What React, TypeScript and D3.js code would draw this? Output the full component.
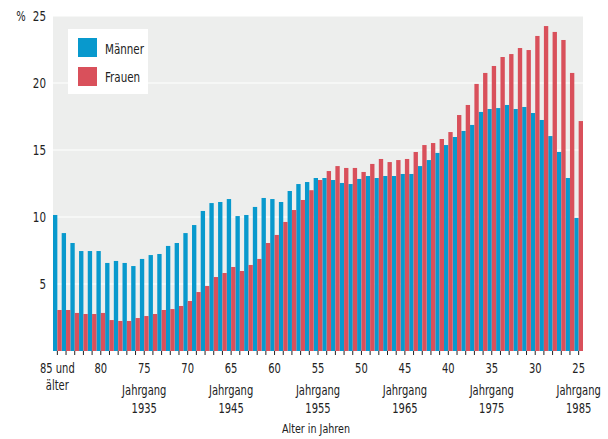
import React from "react";
import * as d3 from "d3";

const ages: number[] = d3.range(85, 24, -1);
const maenner: number[] = [
  10.15, 8.8, 8.06, 7.46, 7.46, 7.46, 6.57, 6.72, 6.57, 6.34,
  6.87, 7.16, 7.24, 7.84, 8.06, 8.8, 9.4, 10.45, 11.04, 11.12,
  11.34, 10.07, 10.15, 10.75, 11.42, 11.34, 11.12, 11.94, 12.46, 12.61,
  12.91, 12.91, 12.76, 12.54, 12.46, 12.84, 13.06, 12.91, 13.06, 13.06,
  13.21, 13.21, 13.8, 14.25, 14.78, 15.37, 15.97, 16.42, 16.87, 17.84,
  18.06, 18.13, 18.36, 18.06, 18.21, 17.76, 17.24, 16.04, 14.85, 12.91,
  9.93,
];
const frauen: number[] = [
  3.06, 3.06, 2.84, 2.76, 2.76, 2.84, 2.31, 2.24, 2.24, 2.46,
  2.61, 2.76, 3.06, 3.13, 3.36, 3.73, 4.4, 4.85, 5.52, 5.82,
  6.27, 5.97, 6.42, 6.87, 8.06, 8.66, 9.63, 10.52, 11.27, 12.0,
  12.76, 13.43, 13.8, 13.66, 13.66, 13.36, 13.96, 14.33, 14.1, 14.25,
  14.33, 14.85, 15.37, 15.52, 15.82, 16.34, 17.61, 18.36, 19.93, 20.75,
  21.27, 21.94, 22.16, 22.61, 22.46, 23.51, 24.25, 23.81, 23.21, 20.75,
  17.16,
];
const seriesNames: string[] = ["Männer", "Frauen"];
const seriesColors: string[] = ["#0899cd", "#d9505b"];
const yTicks: number[] = [5, 10, 15, 20, 25];
const xLabelAges: number[] = [85, 80, 75, 70, 65, 60, 55, 50, 45, 40, 35, 30, 25];
const jahrgang: { age: number; year: string }[] = [
  { age: 75, year: "1935" },
  { age: 65, year: "1945" },
  { age: 55, year: "1955" },
  { age: 45, year: "1965" },
  { age: 35, year: "1975" },
  { age: 25, year: "1985" },
];

const W = 608;
const H = 439;
const FONT = "'DejaVu Sans Condensed', 'DejaVu Sans', sans-serif";
const TEXT = "#222";
const SX = 0.82;

function Label(props: { x: number; y: number; size: number; anchor?: string; children: React.ReactNode }) {
  return (
    <text
      transform={`translate(${props.x},${props.y}) scale(${SX},1)`}
      textAnchor={props.anchor || "middle"}
      fontFamily={FONT}
      fontSize={props.size}
      fill={TEXT}
    >
      {props.children}
    </text>
  );
}

export default function App() {
  const x = d3.scaleBand<number>().domain(ages).range([53, 583]).padding(0);
  const inner = d3.scaleBand<string>().domain(seriesNames).range([0, x.bandwidth()]).padding(0);
  const y = d3.scaleLinear().domain([0, 25]).range([351, 16]);
  const data = [maenner, frauen];
  const cx = (a: number) => (x(a) as number) + x.bandwidth() / 2;

  return (
    <svg width={W} height={H} style={{ position: "absolute", left: 0, top: 0, background: "#fff" }}>
      <rect x={53} y={y(25)} width={583 - 53} height={y(0) - y(25)} fill="#edeeed" />
      {yTicks.map((t) => (
        <line key={t} x1={53} x2={583} y1={y(t)} y2={y(t)} stroke="#fff" strokeWidth={1.2} />
      ))}
      {data.map((vals, si) =>
        vals.map((v, i) => (
          <rect
            key={si + "-" + i}
            x={(x(ages[i]) as number) + (inner(seriesNames[si]) as number)}
            y={y(v)}
            width={inner.bandwidth()}
            height={y(0) - y(v)}
            fill={seriesColors[si]}
          />
        ))
      )}
      {ages.map((a) => (
        <line key={a} x1={cx(a)} x2={cx(a)} y1={351} y2={355} stroke="#222" strokeWidth={1} />
      ))}
      {yTicks.map((t) => (
        <Label key={t} x={46} y={y(t) + 5} size={14} anchor="end">
          {t}
        </Label>
      ))}
      <Label x={21} y={y(25) + 5} size={13.5}>
        %
      </Label>
      {xLabelAges.map((a) => (
        <Label key={a} x={cx(a)} y={373} size={13.5}>
          {a === 85 ? "85 und" : a}
        </Label>
      ))}
      <Label x={cx(85)} y={390} size={13.5}>
        älter
      </Label>
      {jahrgang.map((j) => (
        <g key={j.age}>
          <Label x={cx(j.age)} y={395} size={13.5}>
            Jahrgang
          </Label>
          <Label x={cx(j.age)} y={413} size={13.5}>
            {j.year}
          </Label>
        </g>
      ))}
      <Label x={316} y={433} size={13}>
        Alter in Jahren
      </Label>
      <rect x={68} y={29} width={80} height={65} fill="#fff" />
      {seriesNames.map((s, i) => (
        <g key={s}>
          <rect x={78} y={38 + i * 29} width={19} height={19} fill={seriesColors[i]} />
          <Label x={105} y={54 + i * 28} size={14} anchor="start">
            {s}
          </Label>
        </g>
      ))}
    </svg>
  );
}
